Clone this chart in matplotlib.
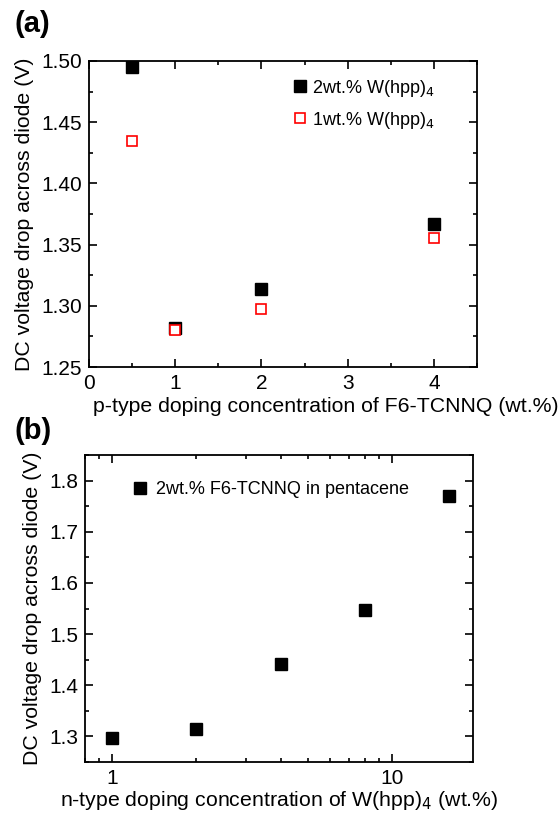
import matplotlib
matplotlib.use('Agg')
import matplotlib.pyplot as plt
from matplotlib.ticker import MultipleLocator, FixedLocator, NullFormatter, FormatStrFormatter

plt.rcParams['font.family'] = ['Liberation Sans', 'DejaVu Sans']

# panel (a): p-type doping
p_conc = [0.5, 1, 2, 4]
v_2wt = [1.495, 1.282, 1.314, 1.367]
v_1wt = [1.435, 1.280, 1.297, 1.355]

# panel (b): n-type doping
n_conc = [1, 2, 4, 8, 16]
v_n = [1.297, 1.314, 1.441, 1.547, 1.770]

fig = plt.figure(figsize=(5.6, 8.13), dpi=100)
W, H = 560, 813


def box(l, t, r, b):
    return [l / W, 1 - b / H, (r - l) / W, (b - t) / H]


def style(ax):
    ax.tick_params(which='both', direction='in', top=True, right=True, labelsize=15, width=1.2)
    ax.tick_params(which='major', length=6, pad=5)
    ax.tick_params(which='minor', length=3)
    for s in ax.spines.values():
        s.set_linewidth(1.3)


# (a)
ax1 = fig.add_axes(box(89, 61, 477, 367))
ax1.plot(p_conc, v_2wt, 's', color='black', ms=8, label='2wt.% W(hpp)$_4$')
ax1.plot(p_conc, v_1wt, 's', mfc='white', mec='red', mew=1.2, ms=7.5, label='1wt.% W(hpp)$_4$')
ax1.set_xlim(0, 4.5)
ax1.set_ylim(1.25, 1.50)
ax1.xaxis.set_major_locator(MultipleLocator(1))
ax1.xaxis.set_minor_locator(MultipleLocator(0.5))
ax1.yaxis.set_major_locator(MultipleLocator(0.05))
ax1.yaxis.set_minor_locator(MultipleLocator(0.025))
ax1.yaxis.set_major_formatter(FormatStrFormatter('%.2f'))
style(ax1)
ax1.set_xlabel('p-type doping concentration of F6-TCNNQ (wt.%)', fontsize=15.3, labelpad=3, x=0.61)
ax1.set_ylabel('DC voltage drop across diode (V)', fontsize=15.3, labelpad=5)
ax1.legend(loc='upper left', bbox_to_anchor=(0.497, 0.975), frameon=False, fontsize=13,
           borderpad=0, handletextpad=0.15, handlelength=1.0, labelspacing=0.6)
fig.text(15 / W, 1 - 24 / H, '(a)', fontsize=21, fontweight='bold', va='center')

# (b)
ax2 = fig.add_axes(box(85, 455, 473, 762))
ax2.plot(n_conc, v_n, 's', color='black', ms=8, label='2wt.% F6-TCNNQ in pentacene')
ax2.set_xscale('log')
ax2.set_xlim(0.8, 19.5)
ax2.set_ylim(1.25, 1.85)
ax2.xaxis.set_major_locator(FixedLocator([1, 10]))
ax2.xaxis.set_major_formatter(FormatStrFormatter('%d'))
ax2.xaxis.set_minor_locator(FixedLocator([0.8, 0.9, 2, 3, 4, 5, 6, 7, 8, 9]))
ax2.xaxis.set_minor_formatter(NullFormatter())
ax2.yaxis.set_major_locator(MultipleLocator(0.1))
ax2.yaxis.set_minor_locator(MultipleLocator(0.05))
ax2.yaxis.set_major_formatter(FormatStrFormatter('%.1f'))
style(ax2)
ax2.set_xlabel('n-type doping concentration of W(hpp)$_4$ (wt.%)', fontsize=15.3, labelpad=1)
ax2.set_ylabel('DC voltage drop across diode (V)', fontsize=15.3, labelpad=5)
ax2.legend(loc='upper left', bbox_to_anchor=(0.095, 0.945), frameon=False, fontsize=13,
           borderpad=0, handletextpad=0.4, handlelength=1.0)
fig.text(15 / W, 1 - 431 / H, '(b)', fontsize=21, fontweight='bold', va='center')

fig.savefig('out.png', dpi=100)
